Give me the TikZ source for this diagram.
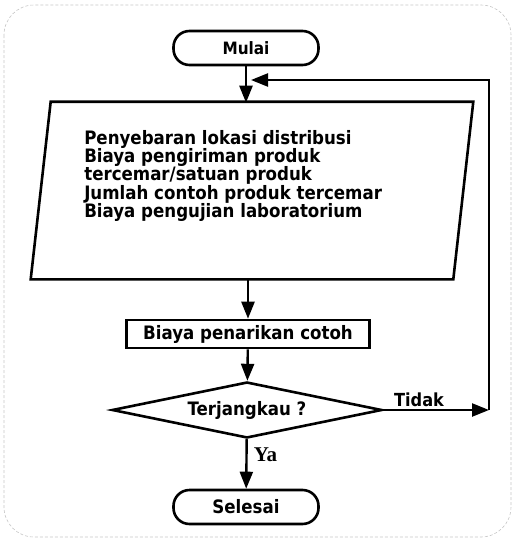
\documentclass[tikz,border=0pt]{standalone}
\usepackage{fontspec}
\setmainfont{DejaVu Sans Condensed}
\newfontfamily\yafont{Liberation Serif}
\usetikzlibrary{shapes.geometric,arrows.meta}

\begin{document}
\begin{tikzpicture}[
        x=1pt, y=-1pt,
        every node/.style={
            font=\bfseries\fontsize{18.5}{18.3}\selectfont,
            line width=2.6pt
        },
        terminal/.style={
            draw,
            rounded corners=16pt,
            minimum width=145pt,
            minimum height=34pt
        },
        inputbox/.style={
            inner sep=0pt,
            minimum width=420pt,
            minimum height=175pt
        },
        slanted/.style={
            line width=2.6pt,
            line join=miter
        },
        process/.style={
            draw,
            minimum width=243pt,
            minimum height=28pt
        },
        decision/.style={
            draw,
            diamond,
            aspect=4.8,
            inner sep=0pt,
            minimum width=270pt,
            minimum height=56pt
        },
        flow/.style={
            -{Triangle[length=17pt,width=13pt]},
            line width=2.4pt
        }
    ]
        \useasboundingbox (0,0) rectangle (514,541);
        \draw[gray!45, line width=0.6pt, dash pattern=on 3pt off 2pt,
            rounded corners=30pt] (4,5) rectangle (511,537);

        \node[terminal, font=\bfseries\fontsize{17}{17}\selectfont] (mulai) at (246,48) {Mulai};
        \node[inputbox] (input) at (252,190.5) {};
        \draw[slanted] ([xshift=10pt]input.north west) -- ([xshift=10pt]input.north east)
            -- ([xshift=-10pt]input.south east) -- ([xshift=-10pt]input.south west) -- cycle;
        \node[anchor=north west, inner sep=0pt, align=left] (daftar) at (83,129)
            {Penyebaran lokasi distribusi\\
             Biaya pengiriman produk\\
             tercemar/satuan produk\\
             Jumlah contoh produk tercemar\\
             Biaya pengujian laboratorium};
        \node[process] (biaya) at (248,334) {Biaya penarikan cotoh};
        \node[decision] (cek) at (247,410) {Terjangkau ?};
        \node[terminal] (selesai) at (246,507) {Selesai};

        \coordinate (atas) at (489,80);
        \coordinate (masuk) at (251,80);

        \draw[flow] (mulai) -- ([yshift=-1pt]mulai |- input.north);
        \draw[flow] ([yshift=1pt]input.south -| biaya) -- (biaya);
        \draw[flow] (biaya) -- (cek);
        \draw[flow] (cek) -- (selesai)
            node[pos=0.32, anchor=west, xshift=6pt, inner sep=0pt,
                font=\yafont\bfseries\fontsize{21}{21}\selectfont] (ya) {Ya};
        \draw[flow] (cek.east) -- (cek.east -| atas)
            node[pos=0.09, anchor=south west, inner sep=0pt, yshift=2pt,
                font=\bfseries\fontsize{18}{18}\selectfont] (tidak) {Tidak};
        \draw[flow] (cek.east -| atas) -- (atas) -- (masuk);
    \end{tikzpicture}
\end{document}
